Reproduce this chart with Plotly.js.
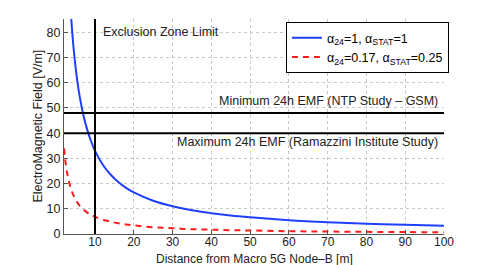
<!DOCTYPE html>
<html><head><meta charset="utf-8">
<script src="https://cdn.plot.ly/plotly-3.0.1.min.js"></script>
<style>body{margin:0;background:#fff}#c{width:491px;height:265px}</style>
</head><body><div id="c"></div>
<script>
const distance = [2, 2.5, 3, 3.5, 4, 4.5, 5, 5.5, 6, 7, 8, 9, 10, 12, 14, 16, 18, 20, 25, 30, 35, 40, 45, 50, 60, 70, 80, 90, 100];
const emfFull = [165, 132, 110, 94.3, 82.5, 73.3, 66, 60, 55, 47.1, 41.3, 36.7, 33, 27.5, 23.6, 20.6, 18.3, 16.5, 13.2, 11, 9.4, 8.25, 7.3, 6.6, 5.5, 4.7, 4.1, 3.7, 3.3];
const emfReduced = [34, 27.2, 22.7, 19.4, 17, 15.1, 13.6, 12.4, 11.3, 9.7, 8.5, 7.6, 6.8, 5.7, 4.9, 4.25, 3.8, 3.4, 2.7, 2.3, 1.9, 1.7, 1.5, 1.4, 1.1, 0.97, 0.85, 0.76, 0.68];
const seriesNames = ['α<sub>24</sub>=1, α<sub>STAT</sub>=1', 'α<sub>24</sub>=0.17, α<sub>STAT</sub>=0.25'];
const exclusionDistance = 10;
const minEmf = 48;
const maxEmf = 40;
const xTicks = [10, 20, 30, 40, 50, 60, 70, 80, 90, 100];
const yTicks = [0, 10, 20, 30, 40, 50, 60, 70, 80];
const xTitle = 'Distance from Macro 5G Node–B [m]';
const yTitle = 'ElectroMagnetic Field [V/m]';

const fam = 'Liberation Sans, Arial, sans-serif';
const txt = {family: fam, size: 12.5, color: '#222'};
const data = [
  {x: distance, y: emfFull, mode: 'lines', name: seriesNames[0], line: {color: '#1f3fff', width: 2, shape: 'spline'}},
  {x: distance, y: emfReduced, mode: 'lines', name: seriesNames[1], line: {color: '#ff1a1a', width: 2, dash: '6px,5px', shape: 'spline'}}
];
const layout = {
  width: 491, height: 265,
  margin: {l: 64, r: 47, t: 19, b: 31},
  paper_bgcolor: '#fff', plot_bgcolor: '#fff',
  font: {family: fam, size: 12, color: '#222'},
  showlegend: true,
  legend: {x: 0.584, y: 0.985, xanchor: 'left', yanchor: 'top', bgcolor: '#fff', bordercolor: '#000', borderwidth: 1,
           font: {family: fam, size: 12.5, color: '#000'}, tracegroupgap: 0},
  xaxis: {range: [2, 100], tickvals: xTicks, ticks: 'inside', ticklen: 4, tickcolor: '#555',
          showgrid: true, gridcolor: '#c8c8c8', griddash: 'dot', zeroline: false,
          showline: true, linecolor: '#555', linewidth: 1, mirror: false,
          ticklabelstandoff: -3,
          tickfont: {size: 12}},
  yaxis: {range: [0, 85.3], tickvals: yTicks, ticks: 'inside', ticklen: 4, tickcolor: '#555',
          showgrid: true, gridcolor: '#c8c8c8', griddash: 'dot', zeroline: false,
          showline: true, linecolor: '#555', linewidth: 1,
          tickfont: {size: 12.5}},
  shapes: [
    {type: 'line', xref: 'x', yref: 'paper', x0: exclusionDistance, x1: exclusionDistance, y0: 0, y1: 1, line: {color: '#000', width: 2}},
    {type: 'line', xref: 'paper', yref: 'y', x0: 0, x1: 1, y0: minEmf, y1: minEmf, line: {color: '#000', width: 2}},
    {type: 'line', xref: 'paper', yref: 'y', x0: 0, x1: 1, y0: maxEmf, y1: maxEmf, line: {color: '#000', width: 2}}
  ],
  annotations: [
    {xref: 'x', yref: 'y', x: 11.6, y: 80, text: 'Exclusion Zone Limit', showarrow: false, xanchor: 'left', yanchor: 'middle', font: txt},
    {xref: 'paper', yref: 'y', x: 0.99, y: 52.6, text: 'Minimum 24h EMF (NTP Study – GSM)', showarrow: false, xanchor: 'right', yanchor: 'middle', font: txt},
    {xref: 'paper', yref: 'y', x: 0.99, y: 36.4, text: 'Maximum 24h EMF (Ramazzini Institute Study)', showarrow: false, xanchor: 'right', yanchor: 'middle', font: txt},
    {xref: 'paper', yref: 'paper', x: 0.5, y: 0, yshift: -16, text: xTitle, showarrow: false, xanchor: 'center', yanchor: 'top', font: {family: fam, size: 12, color: '#222'}},
    {xref: 'paper', yref: 'paper', x: 0, xshift: -27, y: 0.5, text: yTitle, textangle: -90, showarrow: false, xanchor: 'center', yanchor: 'middle', font: txt}
  ]
};
Plotly.newPlot('c', data, layout, {staticPlot: true, displayModeBar: false});
</script></body></html>
